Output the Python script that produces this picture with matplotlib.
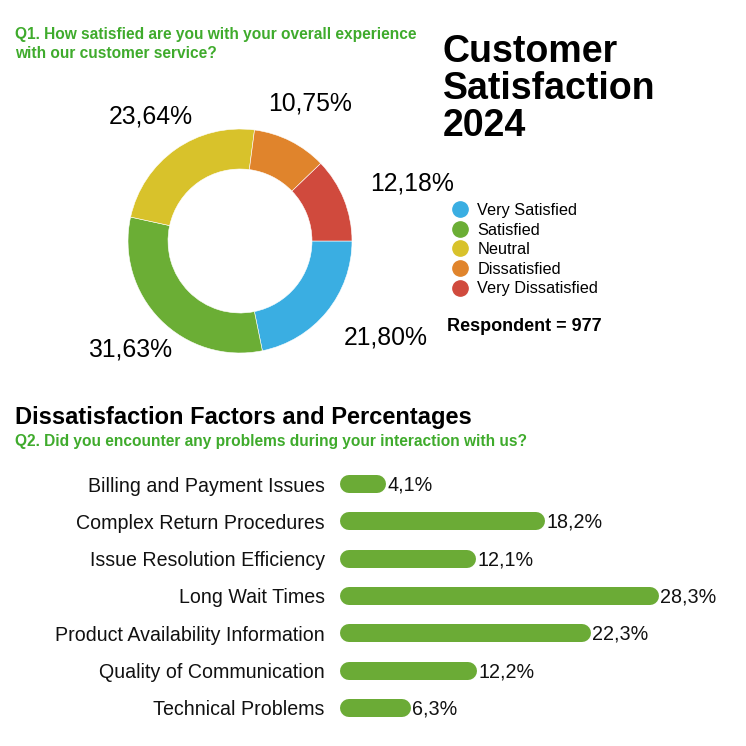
import matplotlib
matplotlib.use("Agg")
import matplotlib.pyplot as plt
from matplotlib.lines import Line2D

# ========================= DATA =========================
sat_labels = ["Very Satisfied", "Satisfied", "Neutral", "Dissatisfied", "Very Dissatisfied"]
sat_values = [21.80, 31.63, 23.64, 10.75, 12.18]
sat_colors = ["#3aaee2", "#6bae35", "#d8c22b", "#e0842c", "#d04a3d"]
respondents = 977

factors = ["Billing and Payment Issues", "Complex Return Procedures", "Issue Resolution Efficiency",
           "Long Wait Times", "Product Availability Information", "Quality of Communication",
           "Technical Problems"]
factor_values = [4.1, 18.2, 12.1, 28.3, 22.3, 12.2, 6.3]
bar_color = "#6bab36"

GREEN = "#3fab2c"
plt.rcParams['font.family'] = ['Liberation Sans', 'DejaVu Sans']

W = H = 746
fig = plt.figure(figsize=(7.46, 7.46), dpi=100)
fig.patch.set_facecolor("white")

def fx(px):
    return px / W

def fy(px):
    return 1 - px / H

# ===================== HEADER TEXTS =====================
fig.text(fx(15), fy(35), "Q1. How satisfied are you with your overall experience",
         color=GREEN, fontsize=11.2, fontweight='bold', va='center', ha='left')
fig.text(fx(15), fy(53), "with our customer service?",
         color=GREEN, fontsize=11.2, fontweight='bold', va='center', ha='left')
fig.text(fx(443), fy(89), "Customer\nSatisfaction\n2024", fontsize=27, fontweight='bold',
         va='center', ha='left', linespacing=1.04)

# ===================== DONUT =====================
cx, cy, R = 240, 241, 112
span = 200
ax1 = fig.add_axes([fx(cx - span), fy(cy + span), 2 * span / W, 2 * span / H])
pct_labels = [f"{v:.2f}".replace('.', ',') + "%" for v in sat_values]
wedges, texts = ax1.pie(sat_values, colors=sat_colors, startangle=0, counterclock=False,
                        labels=pct_labels, labeldistance=1.38,
                        wedgeprops=dict(width=40 / R, edgecolor='white', linewidth=0.4),
                        textprops=dict(fontsize=17.8, ha='center', va='center'))
for t in texts:
    t.set_ha('center')
# nudge crowded labels
label_nudge = {0: (1.30, -0.86), 2: (-0.80, 1.11), 4: (1.54, 0.51)}
for i, pos in label_nudge.items():
    texts[i].set_position(pos)
lim = span / R
ax1.set_xlim(-lim, lim)
ax1.set_ylim(-lim, lim)
ax1.set_aspect('equal')
ax1.axis('off')

handles = [Line2D([0], [0], marker='o', linestyle='none', markersize=11,
                  markerfacecolor=c, markeredgecolor=c) for c in sat_colors]
fig.legend(handles, sat_labels, loc='upper left', bbox_to_anchor=(fx(452), fy(203)),
           frameon=False, fontsize=11.7, handlelength=1.0, handletextpad=0.55,
           labelspacing=0.28, borderpad=0, borderaxespad=0)
fig.text(fx(447), fy(326), f"Respondent = {respondents}", fontsize=13, fontweight='bold',
         va='center', ha='left')

# ===================== BAR SECTION =====================
fig.text(fx(15), fy(417), "Dissatisfaction Factors and Percentages", fontsize=17,
         fontweight='bold', va='center', ha='left')
fig.text(fx(15), fy(442), "Q2. Did you encounter any problems during your interaction with us?",
         color=GREEN, fontsize=11.2, fontweight='bold', va='center', ha='left')

row = 37.33
top = 484 - row / 2
ax_left, ax_w = 340, 406
px_per_unit = 11.27
xmax = ax_w / px_per_unit
ax2 = fig.add_axes([fx(ax_left), fy(top + row * len(factors)), ax_w / W, row * len(factors) / H])
bar_h_px = 18
cap = (bar_h_px / 2) / px_per_unit
for i, v in enumerate(factor_values):
    ax2.plot([cap, v - cap], [i, i], color=bar_color, lw=bar_h_px * 0.72,
             solid_capstyle='round')
    ax2.text(v + 0.08, i + 0.03, f"{v:.1f}".replace('.', ',') + "%", ha='left', va='center',
             fontsize=14.2, color='#111111')
ax2.set_xlim(0, xmax)
ax2.set_ylim(len(factors) - 0.5, -0.5)
ax2.set_yticks(range(len(factors)))
ax2.set_yticklabels(factors, fontsize=14.1, color='#111111')
ax2.tick_params(axis='y', length=0, pad=11)
ax2.set_xticks([])
for s in ax2.spines.values():
    s.set_visible(False)

fig.savefig("out.png", dpi=100, facecolor="white")
